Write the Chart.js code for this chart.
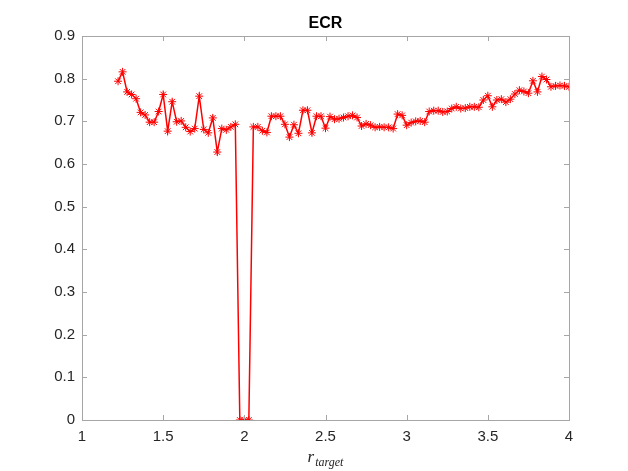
<!DOCTYPE html>
<html>
<head>
<meta charset="utf-8">
<script src="https://cdn.jsdelivr.net/npm/chart.js@4/dist/chart.umd.min.js"></script>
<style>
  html, body { margin: 0; padding: 0; background: #fff; }
  #wrap { width: 628px; height: 471px; }
</style>
</head>
<body>
<div id="wrap"><canvas id="ecr"></canvas></div>
<script>
// r_target values
const rTarget = [
  1.2222, 1.2500, 1.2778, 1.3056, 1.3333, 1.3611, 1.3889, 1.4167, 1.4444, 1.4722,
  1.5000, 1.5278, 1.5556, 1.5833, 1.6111, 1.6389, 1.6667, 1.6944, 1.7222, 1.7500,
  1.7778, 1.8056, 1.8333, 1.8611, 1.8889, 1.9167, 1.9444, 1.9722, 2.0000, 2.0278,
  2.0556, 2.0833, 2.1111, 2.1389, 2.1667, 2.1944, 2.2222, 2.2500, 2.2778, 2.3056,
  2.3333, 2.3611, 2.3889, 2.4167, 2.4444, 2.4722, 2.5000, 2.5278, 2.5556, 2.5833,
  2.6111, 2.6389, 2.6667, 2.6944, 2.7222, 2.7500, 2.7778, 2.8056, 2.8333, 2.8611,
  2.8889, 2.9167, 2.9444, 2.9722, 3.0000, 3.0278, 3.0556, 3.0833, 3.1111, 3.1389,
  3.1667, 3.1944, 3.2222, 3.2500, 3.2778, 3.3056, 3.3333, 3.3611, 3.3889, 3.4167,
  3.4444, 3.4722, 3.5000, 3.5278, 3.5556, 3.5833, 3.6111, 3.6389, 3.6667, 3.6944,
  3.7222, 3.7500, 3.7778, 3.8056, 3.8333, 3.8611, 3.8889, 3.9167, 3.9444, 3.9722,
  4.0000
];

// ECR values
const ecr = [
  0.794, 0.816, 0.769, 0.763, 0.753, 0.721, 0.715, 0.698, 0.698, 0.723,
  0.763, 0.677, 0.746, 0.699, 0.701, 0.686, 0.676, 0.683, 0.759, 0.681,
  0.673, 0.708, 0.628, 0.683, 0.680, 0.687, 0.693, 0, 0, 0,
  0.687, 0.687, 0.678, 0.674, 0.712, 0.712, 0.712, 0.693, 0.663, 0.692,
  0.672, 0.726, 0.726, 0.673, 0.712, 0.712, 0.684, 0.711, 0.705, 0.706,
  0.709, 0.712, 0.714, 0.709, 0.689, 0.694, 0.691, 0.686, 0.687, 0.686,
  0.686, 0.683, 0.717, 0.714, 0.691, 0.697, 0.700, 0.701, 0.698, 0.723,
  0.725, 0.725, 0.722, 0.723, 0.730, 0.734, 0.730, 0.731, 0.734, 0.734,
  0.733, 0.750, 0.760, 0.734, 0.750, 0.752, 0.745, 0.752, 0.764, 0.773,
  0.770, 0.766, 0.795, 0.769, 0.805, 0.798, 0.781, 0.783, 0.784, 0.783,
  0.781
];

const xTicks = [1, 1.5, 2, 2.5, 3, 3.5, 4];
const yTicks = [0, 0.1, 0.2, 0.3, 0.4, 0.5, 0.6, 0.7, 0.8, 0.9];
const titleText = 'ECR';

const tickFont = { family: 'Liberation Sans, Arial, sans-serif', size: 15 };

// matlab-ish box with inward ticks, title over the axes and the x label with subscript
const boxPlugin = {
  id: 'box',
  afterDraw(chart) {
    const { ctx, chartArea: a, scales } = chart;
    const len = 5;
    ctx.save();
    ctx.strokeStyle = '#a6a6a6';
    ctx.lineWidth = 1;
    ctx.beginPath();
    xTicks.forEach(v => {
      const px = Math.round(scales.x.getPixelForValue(v)) + 0.5;
      ctx.moveTo(px, a.bottom); ctx.lineTo(px, a.bottom - len);
      ctx.moveTo(px, a.top); ctx.lineTo(px, a.top + len);
    });
    yTicks.forEach(v => {
      const py = Math.round(scales.y.getPixelForValue(v)) + 0.5;
      ctx.moveTo(a.left, py); ctx.lineTo(a.left + len, py);
      ctx.moveTo(a.right, py); ctx.lineTo(a.right - len, py);
    });
    ctx.stroke();
    ctx.strokeRect(Math.round(a.left) + 0.5, Math.round(a.top) + 0.5,
      Math.round(a.right - a.left), Math.round(a.bottom - a.top));

    const cx = (a.left + a.right) / 2;

    // title
    ctx.fillStyle = '#000';
    ctx.font = 'bold 16px "Liberation Sans", Arial, sans-serif';
    ctx.textAlign = 'center';
    ctx.textBaseline = 'alphabetic';
    ctx.fillText(titleText, cx, a.top - 8);

    // x label: r_target
    const by = 462;
    ctx.fillStyle = '#262626';
    ctx.font = 'italic 17px "Liberation Serif", "DejaVu Serif", serif';
    const rw = ctx.measureText('r').width;
    ctx.font = 'italic 12px "Liberation Serif", "DejaVu Serif", serif';
    const sw = ctx.measureText('target').width;
    const x0 = cx - (rw + sw + 1) / 2;
    ctx.textAlign = 'left';
    ctx.font = 'italic 17px "Liberation Serif", "DejaVu Serif", serif';
    ctx.fillText('r', x0, by);
    ctx.font = 'italic 12px "Liberation Serif", "DejaVu Serif", serif';
    ctx.fillText('target', x0 + rw + 1, by + 4);
    ctx.restore();
  }
};

new Chart(document.getElementById('ecr'), {
  type: 'line',
  data: {
    datasets: [{
      label: 'ECR',
      data: rTarget.map((x, i) => ({ x: x, y: ecr[i] })),
      borderColor: '#ff0000',
      backgroundColor: '#ff0000',
      borderWidth: 1.5,
      pointStyle: 'star',
      pointRadius: 4,
      pointBorderWidth: 1,
      pointBorderColor: '#ff0000',
      tension: 0,
      fill: false
    }]
  },
  options: {
    responsive: true,
    maintainAspectRatio: false,
    animation: false,
    layout: { padding: { top: 36, right: 59, bottom: 0, left: 0 } },
    plugins: {
      legend: { display: false },
      tooltip: { enabled: false },
      title: { display: false }
    },
    scales: {
      x: {
        type: 'linear',
        min: 1,
        max: 4,
        grid: { display: false, drawTicks: false },
        border: { display: false },
        ticks: {
          stepSize: 0.5,
          color: '#262626',
          font: tickFont,
          padding: 8,
          maxRotation: 0,
          callback: v => String(Number(v.toFixed(2)))
        },
        afterFit(scale) { scale.height = 51; }
      },
      y: {
        min: 0,
        max: 0.9,
        grid: { display: false, drawTicks: false },
        border: { display: false },
        ticks: {
          stepSize: 0.1,
          color: '#262626',
          font: tickFont,
          padding: 7,
          callback: v => String(Number(v.toFixed(2)))
        },
        afterFit(scale) { scale.width = 82; }
      }
    }
  },
  plugins: [boxPlugin]
});
</script>
</body>
</html>
